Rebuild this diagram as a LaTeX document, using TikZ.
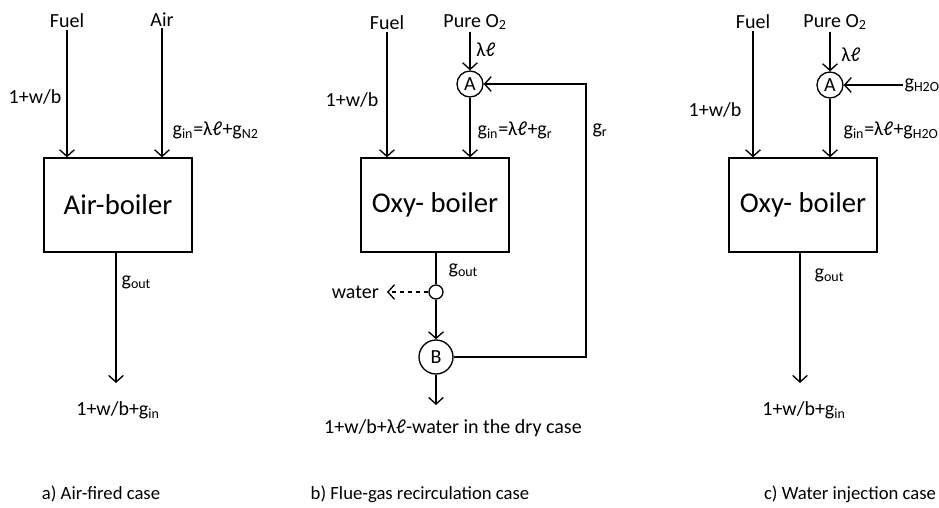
\documentclass[tikz,border=0pt]{standalone}
\usepackage{fontspec}
\setmainfont{Carlito}
\usetikzlibrary{arrows.meta}

\tikzset{
  boiler/.style={draw, line width=1pt, minimum width=111pt, minimum height=70.5pt, font=\fontsize{21.5}{24}\selectfont},
  mixer/.style={draw, circle, line width=1pt, inner sep=0pt, minimum size=19.5pt, font=\fontsize{15}{18}\selectfont},
  lbl/.style={font=\fontsize{15}{18}\selectfont, inner sep=1pt},
  capt/.style={font=\fontsize{14}{17}\selectfont, inner sep=1pt},
  flow/.style={-{Straight Barb[length=5pt,width=11pt]}, line width=1pt},
}

\begin{document}
\begin{tikzpicture}[x=0.75pt,y=-0.75pt]
  \useasboundingbox (0,0) rectangle (939,507);
  % a) air-fired
  \node[boiler] (airb) at (118,205) {Air-boiler};
  \node[lbl] (fuela) at (67,21) {Fuel}; \node[lbl] (aira) at (162,20) {Air};
  \draw[flow] (fuela) -- (fuela |- airb.north); \draw[flow] (aira) -- (aira |- airb.north);
  \node[lbl] (wba) at (35,97) {1+w/b}; \node[lbl, anchor=west] (gina) at (171,130) {g\textsubscript{in}=λℓ+g\textsubscript{N2}};
  \coordinate (enda) at (116,383); \draw[flow] (airb.south -| enda) -- (enda);
  \node[lbl, anchor=west] (gouta) at (120,282) {g\textsubscript{out}};
  \node[lbl] (outa) at (118,410) {1+w/b+g\textsubscript{in}};
  \node[capt] (capa) at (101,494) {a) Air-fired case};
  % b) flue-gas recirculation
  \node[boiler] (oxyb) at (435,205) {Oxy- boiler};
  \node[lbl] (fuelb) at (387,23) {Fuel}; \node[lbl] (o2b) at (475,22) {Pure O\textsubscript{2}};
  \node[mixer] (Ab) at (470,84) {A};
  \draw[flow] (fuelb) -- (fuelb |- oxyb.north); \draw[flow] (Ab |- o2b.south) -- (Ab); \draw[flow] (Ab) -- (Ab |- oxyb.north);
  \node[lbl] (lamb) at (486,50) {λℓ}; \node[lbl] (wbb) at (352,100) {1+w/b};
  \node[lbl, anchor=west] (ginb) at (476,130) {g\textsubscript{in}=λℓ+g\textsubscript{r}}; \node[lbl] (grb) at (600,130) {g\textsubscript{r}};
  \node[mixer, minimum size=10.5pt] (split) at (436,292) {};
  \node[mixer, minimum size=25.5pt] (Bb) at (436,357) {B};
  \draw[line width=1pt] (oxyb.south -| split) -- (split); \draw[flow] (split) -- (Bb);
  \node[lbl, anchor=east, inner xsep=6pt] (water) at (387,292) {water}; \draw[flow, dashed] (split) -- (water);
  \node[lbl, anchor=west] (goutb) at (447,270) {g\textsubscript{out}};
  \coordinate (recyc) at (586,220);
  \draw[flow] (Bb.east) -- (Bb.east -| recyc) -- (Ab -| recyc) -- (Ab);
  \coordinate (endb) at (436,405); \draw[flow] (Bb) -- (endb);
  \node[lbl] (outb) at (453,428) {1+w/b+λℓ-water in the dry case};
  \node[capt] (capb) at (420,494) {b) Flue-gas recirculation case};
  % c) water injection
  \node[boiler] (oxyc) at (803,205) {Oxy- boiler};
  \node[lbl] (fuelc) at (753,22) {Fuel}; \node[lbl] (o2c) at (835,22) {Pure O\textsubscript{2}};
  \node[mixer] (Ac) at (830,85) {A};
  \draw[flow] (fuelc) -- (fuelc |- oxyc.north); \draw[flow] (Ac |- o2c.south) -- (Ac); \draw[flow] (Ac) -- (Ac |- oxyc.north);
  \node[lbl] (lamc) at (851,55) {λℓ}; \node[lbl] (wbc) at (715,110) {1+w/b};
  \node[lbl, anchor=west] (h2oc) at (903,85) {g\textsubscript{H2O}}; \draw[flow] (h2oc) -- (Ac);
  \node[lbl, anchor=west] (ginc) at (842,130) {g\textsubscript{in}=λℓ+g\textsubscript{H2O}};
  \coordinate (endc) at (800,383); \draw[flow] (oxyc.south -| endc) -- (endc);
  \node[lbl, anchor=west] (goutc) at (813,275) {g\textsubscript{out}};
  \node[lbl] (outc) at (804,410) {1+w/b+g\textsubscript{in}};
  \node[capt] (capc) at (850,494) {c) Water injection case};
\end{tikzpicture}
\end{document}
